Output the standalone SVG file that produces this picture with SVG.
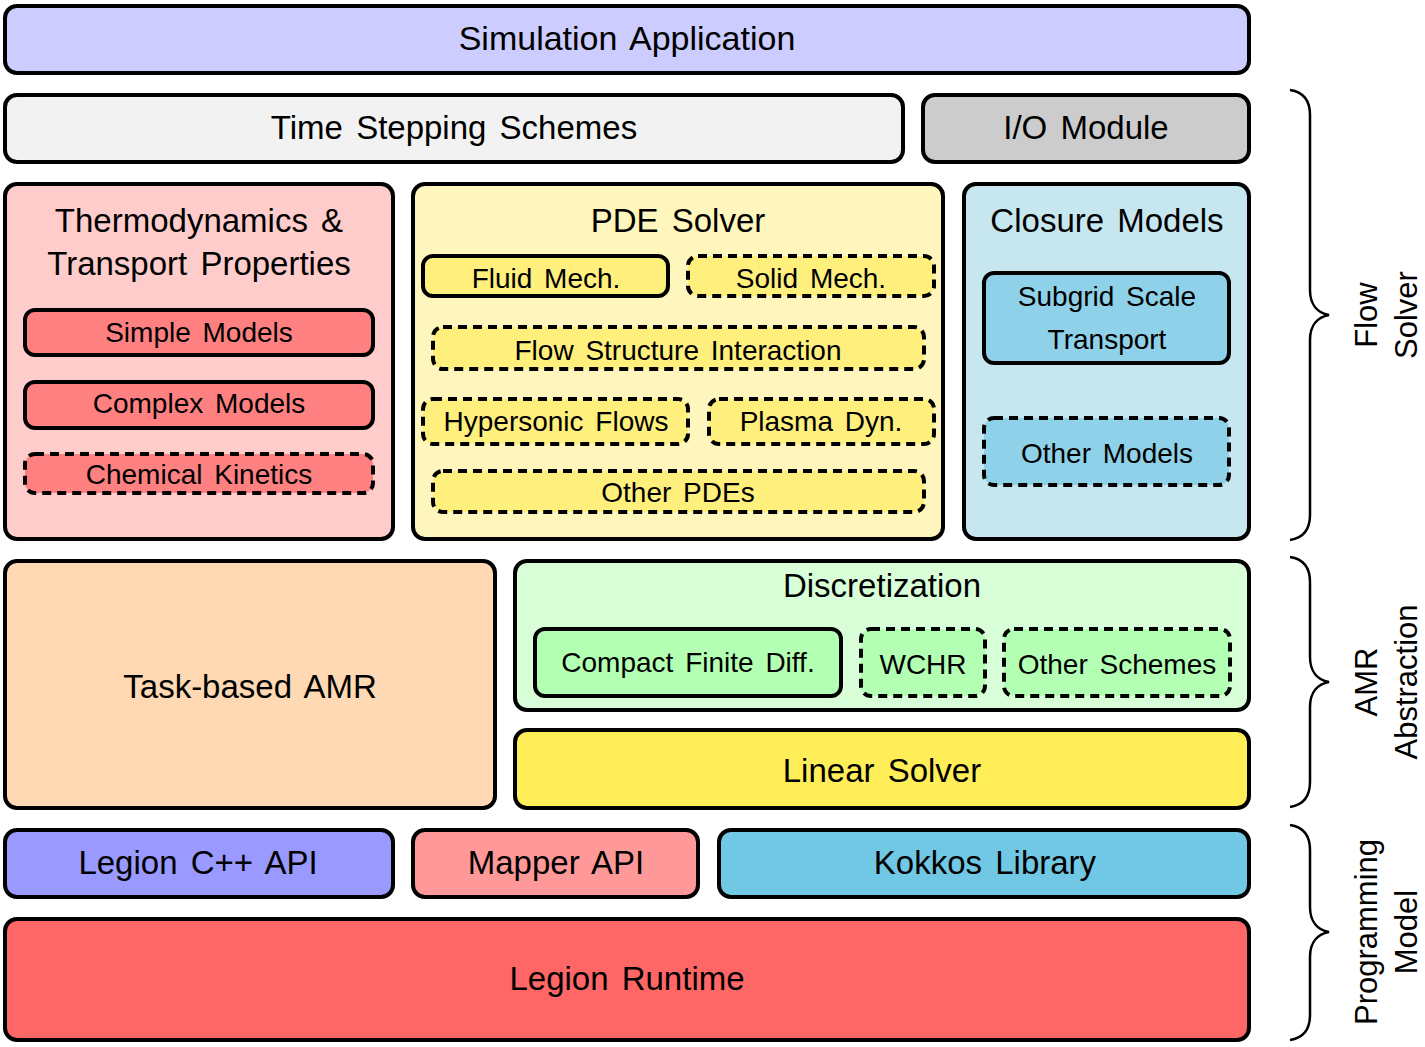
<svg xmlns="http://www.w3.org/2000/svg" width="1425" height="1047" viewBox="0 0 1425 1047">
<style>
.b{stroke:#000;stroke-width:4}
.d{stroke:#000;stroke-width:4;stroke-dasharray:9 6}
text{font-family:"Liberation Sans",Arial,sans-serif;fill:#000;text-anchor:middle;word-spacing:4px}
.t1{font-size:33px}
.t2{font-size:33px}
.t3{font-size:28px}
.t4{font-size:31px}
.br{fill:none;stroke:#000;stroke-width:2.5}
</style>
<rect width="1425" height="1047" fill="#fff"/>
<g id="sim"><rect class="b" x="5" y="6" width="1244" height="67" rx="12" fill="#ccccff"/><text class="t1" x="627" y="50" style="font-size:34px">Simulation Application</text></g>
<g id="time"><rect class="b" x="5" y="95" width="898" height="67" rx="12" fill="#f2f2f2"/><text class="t1" x="454" y="139">Time Stepping Schemes</text></g>
<g id="io"><rect class="b" x="923" y="95" width="326" height="67" rx="12" fill="#cccccc"/><text class="t1" x="1086" y="139">I/O Module</text></g>

<g id="thermo"><rect class="b" x="5" y="184" width="388" height="355" rx="12" fill="#ffcccc"/>
<text class="t2" x="199" y="232">Thermodynamics &amp;</text><text class="t2" x="199" y="275">Transport Properties</text></g>
<g id="simple"><rect class="b" x="25" y="310" width="348" height="45" rx="10" fill="#ff8080"/><text class="t3" x="199" y="342">Simple Models</text></g>
<g id="complex"><rect class="b" x="25" y="382" width="348" height="46" rx="10" fill="#ff8080"/><text class="t3" x="199" y="413">Complex Models</text></g>
<g id="chem"><rect class="d" x="25" y="454" width="348" height="39" rx="10" fill="#ff8080"/><text class="t3" x="199" y="484">Chemical Kinetics</text></g>

<g id="pde"><rect class="b" x="413" y="184" width="530" height="355" rx="12" fill="#fff6bd"/><text class="t2" x="678" y="232">PDE Solver</text></g>
<g id="fluid"><rect class="b" x="423" y="256" width="245" height="40" rx="10" fill="#ffef7d"/><text class="t3" x="546" y="288">Fluid Mech.</text></g>
<g id="solid"><rect class="d" x="688" y="256" width="246" height="40" rx="10" fill="#ffef7d"/><text class="t3" x="811" y="288">Solid Mech.</text></g>
<g id="fsi"><rect class="d" x="433" y="327" width="491" height="42" rx="10" fill="#ffef7d"/><text class="t3" x="678" y="360">Flow Structure Interaction</text></g>
<g id="hyper"><rect class="d" x="423" y="399" width="265" height="45" rx="10" fill="#ffef7d"/><text class="t3" x="556" y="431">Hypersonic Flows</text></g>
<g id="plasma"><rect class="d" x="709" y="399" width="225" height="45" rx="10" fill="#ffef7d"/><text class="t3" x="821" y="431">Plasma Dyn.</text></g>
<g id="otherpde"><rect class="d" x="433" y="471" width="491" height="41" rx="10" fill="#ffef7d"/><text class="t3" x="678" y="502">Other PDEs</text></g>

<g id="closure"><rect class="b" x="964" y="184" width="285" height="355" rx="12" fill="#c6e7f0"/><text class="t2" x="1107" y="232">Closure Models</text></g>
<g id="subgrid"><rect class="b" x="984" y="273" width="245" height="90" rx="10" fill="#8ed1e8"/><text class="t3" x="1107" y="306">Subgrid Scale</text><text class="t3" x="1107" y="349">Transport</text></g>
<g id="othermodels"><rect class="d" x="984" y="418" width="245" height="67" rx="10" fill="#8ed1e8"/><text class="t3" x="1107" y="463">Other Models</text></g>

<g id="amr"><rect class="b" x="5" y="561" width="490" height="247" rx="12" fill="#ffd9b3"/><text class="t1" x="250" y="698">Task-based AMR</text></g>
<g id="disc"><rect class="b" x="515" y="561" width="734" height="149" rx="12" fill="#d9ffd9"/><text class="t2" x="882" y="597">Discretization</text></g>
<g id="compact"><rect class="b" x="535" y="629" width="306" height="67" rx="10" fill="#b3ffb3"/><text class="t3" x="688" y="672">Compact Finite Diff.</text></g>
<g id="wchr"><rect class="d" x="861" y="629" width="124" height="67" rx="10" fill="#b3ffb3"/><text class="t3" x="923" y="674">WCHR</text></g>
<g id="otherschemes"><rect class="d" x="1004" y="629" width="226" height="67" rx="10" fill="#b3ffb3"/><text class="t3" x="1117" y="674">Other Schemes</text></g>
<g id="linear"><rect class="b" x="515" y="730" width="734" height="78" rx="12" fill="#ffee58"/><text class="t1" x="882" y="782">Linear Solver</text></g>

<g id="legionapi"><rect class="b" x="5" y="830" width="388" height="67" rx="12" fill="#9999ff"/><text class="t1" x="198" y="874">Legion C++ API</text></g>
<g id="mapper"><rect class="b" x="413" y="830" width="285" height="67" rx="12" fill="#ff9999"/><text class="t1" x="556" y="874">Mapper API</text></g>
<g id="kokkos"><rect class="b" x="719" y="830" width="530" height="67" rx="12" fill="#70c8e4"/><text class="t1" x="985" y="874">Kokkos Library</text></g>
<g id="runtime"><rect class="b" x="5" y="919" width="1244" height="121" rx="12" fill="#ff6666"/><text class="t1" x="627" y="990">Legion Runtime</text></g>

<g id="connectors">
<path class="br" d="M1290 90 C1303 92 1310 100 1310 115 L1310 290 C1310 305 1318 313 1329 315 C1318 317 1310 325 1310 340 L1310 515 C1310 530 1303 538 1290 540"/>
<path class="br" d="M1290 557 C1303 559 1310 567 1310 582 L1310 657 C1310 672 1318 680 1329 682 C1318 684 1310 692 1310 707 L1310 782 C1310 797 1303 805 1290 807"/>
<path class="br" d="M1290 825 C1303 827 1310 835 1310 850 L1310 907 C1310 922 1318 930 1329 932 C1318 934 1310 942 1310 957 L1310 1015 C1310 1030 1303 1038 1290 1040"/>
</g>
<g id="labels">
<text class="t4" transform="translate(1377,315) rotate(-90)">Flow</text>
<text class="t4" transform="translate(1417,315) rotate(-90)">Solver</text>
<text class="t4" transform="translate(1377,682) rotate(-90)">AMR</text>
<text class="t4" transform="translate(1417,682) rotate(-90)">Abstraction</text>
<text class="t4" transform="translate(1377,932) rotate(-90)">Programming</text>
<text class="t4" transform="translate(1417,932) rotate(-90)">Model</text>
</g>
</svg>
